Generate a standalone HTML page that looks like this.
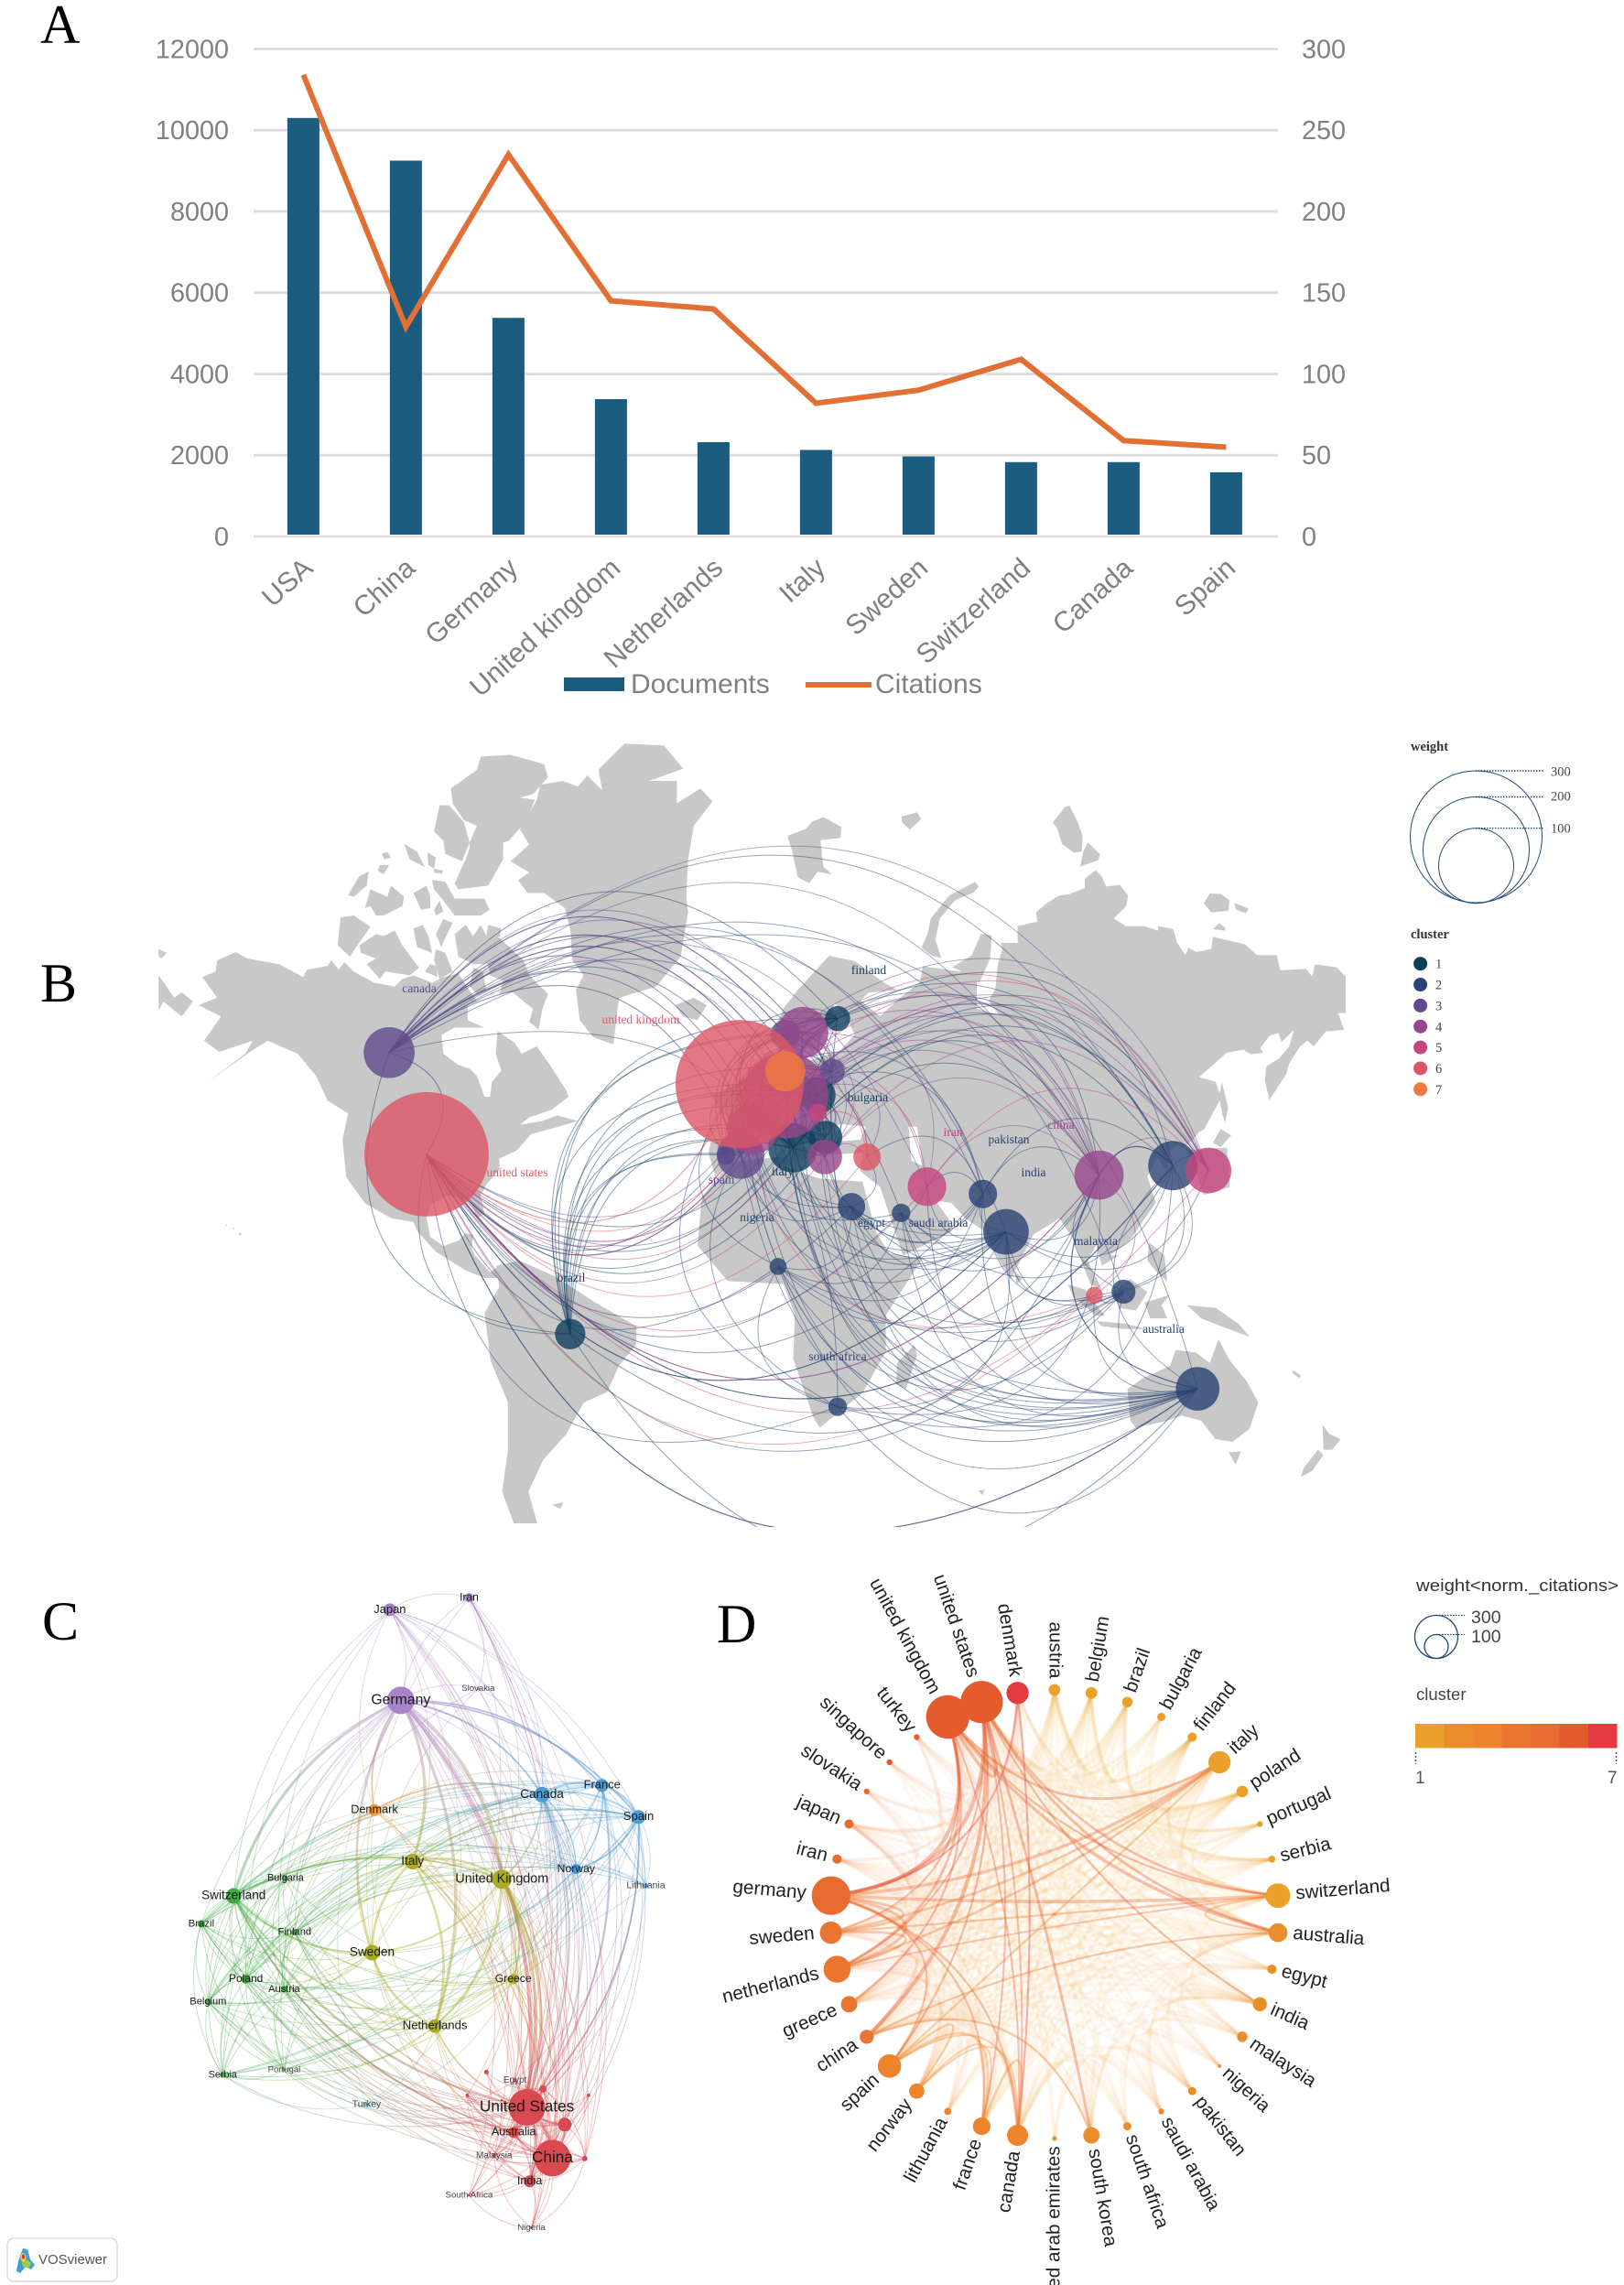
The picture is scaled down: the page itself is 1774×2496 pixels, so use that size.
<!DOCTYPE html>
<html lang="en">
<head>
<meta charset="utf-8">
<title>Country collaboration figure</title>
<style>
html,body{margin:0;padding:0;background:#fff;}
svg{display:block;}
.sans{font-family:"Liberation Sans",sans-serif;}
.serif{font-family:"Liberation Serif",serif;}
</style>
</head>
<body>
<svg id="fig" xmlns="http://www.w3.org/2000/svg" width="1774" height="2496" viewBox="0 0 1774 2496">
<rect width="1774" height="2496" fill="#fff"/>
<defs><clipPath id="mapClip"><rect x="173" y="800" width="1301" height="868"/></clipPath></defs>

<g class="serif" font-size="60" fill="#000">
<text x="44" y="47">A</text>
<text x="44" y="1094">B</text>
<text x="46" y="1791">C</text>
<text x="783" y="1794">D</text>
</g>

<g id="chartA"></g>

<g id="mapLand" fill="#c8c8c8">
<g transform="translate(170,800) scale(.4082)">
<path d="M125,655 160,640 165,610 215,588 245,605 330,620 395,655 405,635 460,625 470,610 490,635 505,615 530,640 585,670 640,680 660,660 690,650 740,670 770,655 810,645 840,690 860,720 835,730 835,770 880,790 860,790 800,790 765,810 770,860 810,890 840,900 860,920 880,975 895,975 900,935 925,905 910,860 915,800 960,830 980,860 1020,840 1055,890 1100,960 1105,975 1060,1010 1000,1030 975,1050 1035,1040 1075,1025 1130,1040 1060,1060 1005,1075 965,1120 920,1140 920,1170 885,1210 870,1240 880,1290 860,1300 840,1250 780,1240 735,1265 725,1300 735,1350 770,1375 810,1360 830,1340 850,1345 845,1380 855,1400 895,1445 930,1420 945,1460 880,1460 830,1440 750,1390 700,1335 690,1310 630,1300 560,1260 510,1190 500,1090 515,1020 460,985 430,920 380,860 300,825 260,850 140,935 200,890 240,860 260,825 170,855 130,825 175,760 115,730 165,710Z"/>
<path d="M8,580 30,590 15,605 8,600ZM8,650 50,710 70,695 100,720 70,760 20,720 8,745Z"/>
<path d="M790,150 860,100 870,65 950,60 1040,85 1050,120 1010,165 975,175 1015,180 990,240 945,290 930,295 930,340 890,410 810,420 800,405 820,360 830,340 840,310 840,295 860,250 825,235 795,190ZM760,195 785,195 825,240 840,295 820,345 775,325 770,290 745,265ZM605,325 620,320 630,335 612,340ZM600,355 625,355 610,380 595,370ZM665,298 700,320 720,360 680,340ZM727,320 750,335 745,365 730,355ZM745,365 770,370 765,378 745,375ZM740,395 775,400 800,445 880,445 893,475 870,490 800,490 770,450 745,420ZM515,435 545,385 570,372 565,410 530,440ZM560,470 575,420 620,440 630,410 665,440 660,465 610,490 590,490 575,465ZM690,430 725,410 735,440 735,470 710,475ZM745,475 760,450 770,480 750,490ZM495,495 530,490 575,520 540,570 520,600 487,570ZM545,570 590,540 610,545 640,530 660,570 705,630 680,650 615,640 600,660 565,620 590,605 550,590ZM690,525 715,515 730,545 740,590 700,575ZM750,540 770,500 795,510 770,560 765,575ZM735,620 750,625 755,655 720,640ZM750,580 775,590 795,640 760,660 745,610ZM800,540 830,515 850,545 870,515 885,545 890,515 925,525 920,550 985,610 1000,650 1050,700 1035,740 1025,795 1000,775 1010,740 985,720 955,695 920,700 930,665 895,650 890,620 850,620 810,600ZM850,630 875,640 885,690 860,700 840,680Z"/>
<path d="M1185,100 1255,30 1360,35 1412,97 1320,130 1395,130 1395,190 1458,150 1490,185 1440,250 1425,340 1420,440 1425,480 1405,600 1340,680 1240,710 1225,835 1170,815 1135,770 1125,690 1145,650 1115,610 1110,530 1095,470 1040,430 995,430 970,395 1000,375 950,345 1000,300 975,260 1020,180 1030,140 1090,130 1130,145 1155,115 1195,155Z"/>
<path d="M1390,730 1440,710 1475,730 1450,770 1410,760Z"/>
<path d="M186,1316 192,1318 190,1322ZM205,1325 212,1328 209,1331ZM222,1338 231,1342 226,1348Z"/>
</g>
<g transform="translate(0,780) scale(.6378,.574)">
<path d="M850,1050 890,1040 950,1070 1020,1120 1090,1165 1090,1200 1060,1240 1040,1290 1000,1310 970,1370 930,1420 905,1480 920,1540 880,1540 860,1480 870,1400 870,1310 840,1230 830,1140 855,1090Z"/>
<path d="M945,1505 965,1500 960,1512Z"/>
</g>
<g transform="translate(800,780) scale(.621,.574)">
<path d="M-30,880 -42,835 -38,815 5,815 -8,770 -35,725 5,705 40,670 65,640 100,650 110,625 135,660 190,640 215,610 200,575 180,550 165,600 150,640 120,635 100,625 70,610 90,560 115,525 170,460 215,470 265,510 290,525 240,530 225,545 260,575 295,540 330,510 335,480 400,490 430,485 430,560 821,691 850,700 860,730 830,790 790,815 770,830 765,870 745,840 745,850 730,880 745,930 700,1000 665,1030 680,1030 650,1050 640,1010 625,1040 650,1095 630,1085 610,1030 600,1000 575,960 530,990 490,1075 470,1040 445,985 410,960 385,930 350,925 340,900 380,960 385,985 320,1020 300,1030 260,900 225,870 230,835 150,840 160,810 120,820 125,860 90,790 75,760 40,780 10,815 -5,850Z"/>
<path d="M75,770 100,790 140,840 125,850 80,810 55,770Z"/>
<path d="M-3,853 96,841 100,865 154,884 229,890 253,986 275,1025 334,1037 270,1144 270,1213 229,1292 154,1358 143,1340 107,1227 110,1144 90,1085 -8,1079 -61,1012 -54,919Z"/>
<path d="M97,232 130,218 140,205 160,196 192,215 190,236 155,240 160,290 175,305 150,300 135,322 115,310 105,260ZM298,195 325,187 332,200 312,220 298,205Z"/>
<path d="M800,830 870,825 875,900 830,915ZM497,1060 510,1075 500,1085ZM733,1005 760,1030 765,1080 745,1060 730,1040ZM590,1085 620,1095 655,1145 640,1145 600,1110ZM670,1100 700,1075 730,1100 710,1135 680,1130ZM640,1155 690,1160 730,1170 690,1170 650,1165ZM725,1120 770,1105 755,1125 765,1150 735,1150ZM800,1125 850,1130 890,1160 910,1185 860,1165 825,1150Z"/>
<path d="M695,1285 720,1265 770,1240 780,1210 815,1215 840,1235 855,1190 875,1230 905,1270 925,1310 910,1360 880,1385 850,1380 825,1345 790,1335 765,1345 710,1358 700,1345Z"/>
<path d="M873,1405 895,1403 885,1428ZM1038,1352 1050,1370 1070,1380 1055,1400 1040,1400ZM1030,1400 1040,1410 1020,1440 1000,1452 1005,1435ZM985,1248 1000,1258 998,1264 986,1255ZM320,1200 325,1220 305,1285 288,1275 290,1235ZM432,1478 444,1476 440,1486Z"/>
<path fill="#fff" d="M150,795 190,780 235,785 225,810 170,815ZM310,785 325,785 335,860 315,850Z"/>
</g>
<g transform="translate(1000,880) scale(.3333)">
<path d="M240,640 262,600 270,520 285,470 280,450 335,450 335,395 400,380 395,350 430,320 470,295 505,290 555,270 555,240 590,212 610,230 625,265 670,260 697,295 690,330 650,370 690,395 750,395 795,410 795,395 845,405 858,450 885,490 895,465 920,480 970,470 975,430 1040,445 1080,455 1120,490 1185,490 1195,540 1280,535 1300,560 1310,520 1380,530 1410,560 1410,680 1385,680 1405,735 1345,740 1305,790 1285,770 1260,790 1225,845 1215,880 1160,965 1145,900 1150,855 1190,830 1225,790 1240,735 1200,775 1190,745 1160,755 1130,795 1140,810 1100,815 1075,800 1020,810 930,890 970,910 990,940 960,1030 910,1095 880,1120 840,1100 500,1000Z"/>
<path d="M120,530 185,490 215,420 250,425 245,500 210,580 180,555Z"/>
<path d="M20,465 40,420 50,370 110,295 195,250 208,265 190,285 130,310 80,370 65,440 85,500 50,490Z"/>
<path d="M450,55 490,5 505,0 530,50 548,100 545,150 520,155 480,125 465,75ZM565,120 605,160 600,178 540,200 550,150Z"/>
<path d="M945,320 965,288 1000,290 1030,310 1025,345 970,350ZM1045,318 1092,338 1082,352 1050,340ZM975,405 995,385 1015,400 1015,410Z"/>
<path d="M1005,908 1025,990 1015,1040 1005,1010 995,950ZM1000,1060 1035,1080 1000,1120 975,1105Z"/>
</g>
</g>
<g id="mapLinks" clip-path="url(#mapClip)" fill="none"></g>
<g id="mapNodes"></g>
<g class="serif" font-size="13.5" text-anchor="middle" dominant-baseline="middle">
<text x="458" y="1081" fill="#5b4a8a">canada</text>
<text x="700" y="1115" fill="#e8566b">united kingdom</text>
<text x="565" y="1282" fill="#e8566b">united states</text>
<text x="624" y="1397" fill="#0f3d5c">brazil</text>
<text x="949" y="1061" fill="#0f3d5c">finland</text>
<text x="948" y="1200" fill="#0f3d5c">bulgaria</text>
<text x="788" y="1290" fill="#5f4b8b">spain</text>
<text x="855" y="1281" fill="#0f3d5c">italy</text>
<text x="827" y="1331" fill="#2a4373">nigeria</text>
<text x="952" y="1337" fill="#2a4373">egypt</text>
<text x="915" y="1483" fill="#2a4373">south africa</text>
<text x="1041" y="1238" fill="#c5457e">iran</text>
<text x="1102" y="1246" fill="#2a4373">pakistan</text>
<text x="1159" y="1230" fill="#97478c">china</text>
<text x="1129" y="1282" fill="#2a4373">india</text>
<text x="1025" y="1337" fill="#2a4373">saudi arabia</text>
<text x="1197" y="1357" fill="#2a4373">malaysia</text>
<text x="1271" y="1453" fill="#2a4373">australia</text>
</g>
<g id="mapLegend">
<text class="serif" x="1541" y="820" font-size="14.5" font-weight="bold" fill="#333">weight</text>
<g fill="none" stroke="#1f4a75" stroke-width="1">
<circle cx="1612.500" cy="914" r="72"/>
<circle cx="1612.500" cy="928.500" r="58"/>
<circle cx="1612.500" cy="945.700" r="41"/>
<path stroke-dasharray="1.5 1.5" stroke-width="1.4" d="M1612,842H1686M1612,870.500H1686M1612,904.700H1686"/>
</g>
<g class="serif" font-size="14.5" fill="#444" dominant-baseline="middle">
<text x="1694" y="844">300</text>
<text x="1694" y="871">200</text>
<text x="1694" y="906">100</text>
</g>
<text class="serif" x="1541" y="1025" font-size="14.5" font-weight="bold" fill="#333">cluster</text>
<g id="clusterLegendB"></g>
</g>

<g id="vos">
<g id="vosLinks" fill="none"></g>
<g id="vosNodes"></g>
<g id="vosLabels" class="sans" text-anchor="middle" dominant-baseline="middle"></g>
</g>
<g id="vosBadge">
<rect x="8" y="2445" width="120" height="47" rx="7" fill="#fff" stroke="#dcdcdc" stroke-width="1.5"/>
<g>
<path d="M25,2456 L30,2457 L33,2468 L38,2474 L34,2479 L28,2476 L22,2483 L18,2481 L20,2470Z" fill="#38a0d8"/>
<ellipse cx="29" cy="2473" rx="5" ry="4" fill="#9ccb3c"/>
<ellipse cx="25.500" cy="2466" rx="3" ry="5" fill="#f2d22e"/>
<ellipse cx="25.500" cy="2465" rx="1.600" ry="2.800" fill="#e2332b"/>
</g>
<text class="sans" x="42" y="2473" font-size="15" fill="#555">VOSviewer</text>
</g>

<g id="chord">
<g id="chordLinks" fill="none"></g>
<g id="chordNodes"></g>
<g id="chordLabels" class="sans" font-size="20.700" fill="#222"></g>
</g>
<g id="chordLegend" class="sans">
<text x="1547" y="1738" font-size="18.500" fill="#333" textLength="221" lengthAdjust="spacingAndGlyphs">weight&lt;norm._citations&gt;</text>
<g fill="none" stroke="#1f4a75" stroke-width="1.300">
<circle cx="1569" cy="1788" r="23.500"/>
<circle cx="1569" cy="1798.500" r="13"/>
<path stroke-dasharray="1.500 1.500" d="M1569,1764.500H1600M1569,1785.500H1600"/>
</g>
<text x="1607" y="1773" font-size="19.500" fill="#444">300</text>
<text x="1607" y="1794" font-size="19.500" fill="#444">100</text>
<text x="1547" y="1857" font-size="18.500" fill="#444">cluster</text>
<g id="colorBar"></g>
<path d="M1546.500,1914V1927M1765.500,1914V1927" stroke="#2a5a95" stroke-width="1.500" stroke-dasharray="2 2" fill="none"/>
<text x="1546" y="1948" font-size="19" fill="#555">1</text>
<text x="1756" y="1948" font-size="19" fill="#555">7</text>
</g>
</svg>

<script>
/* ---------- Panel A data ---------- */
const categoriesA = ["USA","China","Germany","United kingdom","Netherlands","Italy","Sweden","Switzerland","Canada","Spain"];
const documentsA = [10300,9250,5380,3380,2320,2130,1970,1830,1830,1580];
const citationsA = [284,129,235,145,140,82,90,109,59,55];
const leftTicksA = [0,2000,4000,6000,8000,10000,12000];
const rightTicksA = [0,50,100,150,200,250,300];

/* ---------- Shared collaboration network ---------- */
const strongLinks = [
["gb","us",5],["de","gb",6],["de","us",6],["de","dk",3],["de","it",5],["de","ch",5],["de","se",4],["de","nl",5],
["gb","au",5],["us","ch",4],["gb","it",4],["nl","it",4],["nl","gb",4],["nl","us",3],["es","it",3],["es","de",3],
["se","gb",3],["gb","ca",3],["us","fr",3],["dk","ca",3],["us","ca",3],["se","nl",4],["ch","se",3],["ch","nl",3],
["ch","gb",3],["it","se",4],["gb","gr",3],["ca","fr",4],["es","fr",4],["es","ca",3],["es","no",3],["fr","no",2],
["ca","no",2],["us","cn",6],["us","au",4],["us","kr",4],["cn","kr",3],["cn","au",3],["us","es",3],["ch","au",3],
["de","fr",3],["de","ca",3],["us","in",3]
];
const weakRows = [
"us:at be br bg dk eg fi gr in ir jp lt my ng no pk pl pt rs sa sg sk za ae tr kr au cn es it qa",
"gb:at be br bg dk eg fi gr in ir jp lt my ng no pk pl pt rs sa sg sk za ae tr kr cn es fr ch",
"de:at be br bg dk eg fi gr in ir jp lt my no pk pl pt rs sk za tr kr cn es fr au ca",
"ch:at be br bg dk fi gr in jp lt no pl pt rs se ca es fr cn au tr",
"nl:at be br dk fi gr in jp no pl pt rs ca es fr cn au ir tr",
"se:at be br dk fi gr in no pl pt rs ca es fr cn au ir sk",
"it:at be br bg dk eg fi gr in jp no pl pt rs ca es fr cn au kr lt",
"ca:at be br dk fi gr in ir jp lt my no pl pk cn au kr sa za",
"es:at be br dk fi gr lt no pl pt rs cn au in jp eg",
"fr:at be br dk fi gr lt no pl pt rs cn au in jp",
"cn:at be br dk eg fi gr in ir jp my no pk pl sa sg za kr au ng qa",
"au:at be br dk eg fi gr in ir my no pk pl sa sg za kr ng qa",
"kr:in jp my pk sa sg za at be fi qa",
"jp:ir in sk at dk gr no pl",
"in:ir my pk sa sg za eg ng at gr",
"ir:sk pk eg",
"tr:pl gr rs eg pk",
"eg:sa pk my ng",
"sa:pk my ng sg ae",
"pk:my ae ng",
"my:sg ng",
"za:ng ae",
"br:at be bg fi pl rs pt gr no",
"at:be bg fi pl rs pt gr no dk",
"be:bg fi pl rs pt gr no dk",
"bg:fi pl rs gr",
"fi:pl rs gr no dk lt pt",
"dk:gr no pl",
"gr:no pl rs",
"lt:no pl sk",
"no:pl rs",
"pl:rs pt sk",
"pt:rs"
];

/* ---------- Panel B data ---------- */
const idsB = ["ca","us","br","gb","de","dk","se","no","fi","pl","at","rs","fr","es","pt","it","bg","gr","tr","ir","eg","sa","pk","in","cn","kr","jp","my","sg","au","za","ng"];
const lonB = [-110.2,-98.9,-55.5,-4.3,9.5,9.5,14.8,9.5,25.3,23.7,19.2,19.2,-0.4,-4,-8.4,11.8,21.7,21.4,34.2,52.3,29.5,44.5,69.2,76.2,104.3,126.6,137.4,111.7,102.9,134.1,25.3,7.3];
const latB = [56.8,37.6,-10.1,51.6,49.6,53.8,59.8,59.5,61.7,53.8,49.6,46.3,43,37.4,37.4,39,41.3,37,37,30,25,23.4,28.2,18.4,32.8,35,33.9,1.8,0.8,-24.8,-29.3,8.9];
const weightB = [45,268,16,285,128,28,45,15,11,11,23,6,45,39,6,42,19,21,13,26,13,6,14,36,42,42,36,10,5,33,6,5];
const clusterB = [3,6,1,6,4,7,4,3,1,3,1,5,4,3,2,1,1,4,6,5,2,2,2,2,4,2,5,2,6,2,2,2];
const clusterColorsB = ["#0f3d5c","#2a4373","#5f4b8b","#97478c","#c5457e","#dc5665","#ef7a3f"];
const clusterNamesB = [1,2,3,4,5,6,7];

/* ---------- Panel C data (layout units from the VOS map) ---------- */
const idsC = ["jp","ir","de","sk","dk","ca","fr","es","it","gb","no","lt","ch","bg","br","fi","se","gr","pl","at","be","nl","rs","pt","tr","eg","us","au","kr","cn","in","my","za","ng","pk","sa","sg","ae","qa"];
const labelsC = ["Japan","Iran","Germany","Slovakia","Denmark","Canada","France","Spain","Italy","United Kingdom","Norway","Lithuania","Switzerland","Bulgaria","Brazil","Finland","Sweden","Greece","Poland","Austria","Belgium","Netherlands","Serbia","Portugal","Turkey","Egypt","United States","Australia","","China","India","Malaysia","South Africa","Nigeria","","","","",""];
const layoutXC = [856,1030,880,1050,822,1190,1322,1402,906,1102,1265,1418,513,627,442,647,817,1127,540,624,457,955,489,624,805,1131,1157,1128,1240,1213,1163,1085,1030,1167,1284,1192,1026,1068,1292];
const layoutYC = [115,89,310,285,546,513,493,561,657,695,673,709,731,693,791,809,853,910,910,932,959,1011,1116,1105,1180,1128,1186,1240,1223,1295,1345,1290,1375,1445,1296,1146,1160,1110,1160];
const weightC = [196,100,900,9,169,289,196,225,289,441,121,25,289,36,64,49,289,121,100,49,49,225,36,9,25,16,1600,144,225,1600,169,16,9,9,36,64,16,25,16];
const clusterC = ["p","p","p","p","o","b","b","b","y","y","b","b","g","g","g","g","y","y","g","g","g","y","g","g","c","r","r","r","r","r","r","r","r","r","r","r","r","r","r"];
const clusterColorsC = {p:"#a983c8",o:"#f0993c",b:"#4c9bd6",y:"#a9ab24",g:"#3fa944",c:"#5cc5d0",r:"#d94a50"};

/* ---------- Panel D data ---------- */
const idsD = ["at","be","br","bg","fi","it","pl","pt","rs","ch","au","eg","in","my","ng","pk","sa","za","kr","ae","ca","fr","lt","no","es","cn","gr","nl","se","de","ir","jp","sk","sg","tr","gb","us","dk"];
const namesD = ["austria","belgium","brazil","bulgaria","finland","italy","poland","portugal","serbia","switzerland","australia","egypt","india","malaysia","nigeria","pakistan","saudi arabia","south africa","south korea","united arab emirates","canada","france","lithuania","norway","spain","china","greece","netherlands","sweden","germany","iran","japan","slovakia","singapore","turkey","united kingdom","united states","denmark"];
const weightD = [22,22,18,11,14,81,22,5.6,8,99,58,14,32,18,2,11,5.6,11,44,3.6,73,51,8,38,90,32,44,119,81,245,14,14,5.6,5.6,5.6,308,292,81];
const clusterD = [1,1,1,1,1,1,1,1,1,1,2,2,2,2,2,2,2,2,2,2,3,3,3,3,3,4,4,4,4,5,5,5,5,6,6,6,6,7];
const clusterColorsD = ["#eaa029","#ec8d2b","#ed842c","#ea7530","#e86b2f","#e55b2e","#e63a3e"];

/* ---------- Helpers ---------- */
const NS = "http://www.w3.org/2000/svg";
const make = tag => document.createElementNS(NS, tag);
const root = id => document.getElementById(id);
const weakPairs = [];
weakRows.forEach(row => {
  const parts = row.split(":");
  parts[1].split(" ").forEach(t => weakPairs.push([parts[0], t]));
});

/* ---------- Panel A ---------- */
(function () {
  const g = root("chartA");
  const xA = i => 331.4 + i * 112;
  const yLeft = v => 586 - v * 532.6 / 12000;
  const yRight = v => 586 - v * 532.6 / 300;
  leftTicksA.forEach(t => {
    const grid = make("line");
    
    
    grid.setAttribute("x1", 277);
    grid.setAttribute("x2", 1396);
    grid.setAttribute("y1", yLeft(t));
    grid.setAttribute("y2", yLeft(t));
    grid.setAttribute("stroke", "#dcdcdc");
    grid.setAttribute("stroke-width", "2.800");
    g.appendChild(grid);
    const lab = make("text");
    
    
    lab.setAttribute("x", 250);
    lab.setAttribute("y", yLeft(t) + 10);
    lab.setAttribute("text-anchor", "end");
    lab.setAttribute("font-family", '"Liberation Sans", sans-serif');
    lab.setAttribute("font-size", "28.800");
    lab.setAttribute("fill", "#808080");
    lab.textContent = t;
    g.appendChild(lab);
  });
  rightTicksA.forEach(t => {
    const lab = make("text");
    
    
    lab.setAttribute("x", 1422);
    lab.setAttribute("y", yRight(t) + 10);
    lab.setAttribute("font-family", '"Liberation Sans", sans-serif');
    lab.setAttribute("font-size", "28.800");
    lab.setAttribute("fill", "#808080");
    lab.textContent = t;
    g.appendChild(lab);
  });
  documentsA.forEach((v, i) => {
    const bar = make("rect");
    
    
    bar.setAttribute("x", xA(i) - 17.500);
    bar.setAttribute("y", yLeft(v));
    bar.setAttribute("width", 35);
    bar.setAttribute("height", 584 - yLeft(v));
    bar.setAttribute("fill", "#1c5c7e");
    g.appendChild(bar);
  });
  const line = make("polyline");
  
  
  line.setAttribute("points", citationsA.map((v, i) => xA(i) + "," + yRight(v)).join(" "));
  line.setAttribute("fill", "none");
  line.setAttribute("stroke", "#e26f33");
  line.setAttribute("stroke-width", "6");
  line.setAttribute("stroke-linejoin", "miter");
  g.appendChild(line);
  categoriesA.forEach((c, i) => {
    const t = make("text");
    
    
    t.setAttribute("transform", "translate(" + (xA(i) + 12) + ",623) rotate(-42)");
    t.setAttribute("text-anchor", "end");
    t.setAttribute("font-family", '"Liberation Sans", sans-serif');
    t.setAttribute("font-size", "30");
    t.setAttribute("fill", "#808080");
    t.textContent = c;
    g.appendChild(t);
  });
  const sw = make("rect");
  
  
  sw.setAttribute("x", 616);
  sw.setAttribute("y", 740);
  sw.setAttribute("width", 66);
  sw.setAttribute("height", 15);
  sw.setAttribute("fill", "#1c5c7e");
  g.appendChild(sw);
  const ls = make("line");
  
  
  ls.setAttribute("x1", 880);
  ls.setAttribute("x2", 952);
  ls.setAttribute("y1", 748);
  ls.setAttribute("y2", 748);
  ls.setAttribute("stroke", "#e26f33");
  ls.setAttribute("stroke-width", "6");
  g.appendChild(ls);
  [["Documents", 689], ["Citations", 956]].forEach(p => {
    const t = make("text");
    
    
    t.setAttribute("x", p[1]);
    t.setAttribute("y", 757);
    t.setAttribute("font-family", '"Liberation Sans", sans-serif');
    t.setAttribute("font-size", "30");
    t.setAttribute("fill", "#808080");
    t.textContent = p[0];
    g.appendChild(t);
  });
})();

/* ---------- Panel B ---------- */
(function () {
  const xLon = lon => 823.5 + 3.615 * lon;
  const yLat = lat => 1418 - 221.6 * Math.log(Math.tan(Math.PI / 4 + lat * Math.PI / 360));
  const rW = w => 4.15 * Math.sqrt(w);
  const south = new Set(["us","au","za","ng","in","my","sg","sa","eg"]);
  const idx = {};
  idsB.forEach((d, i) => { idx[d] = i; });
  const isEurope = i => latB[i] > 35 && lonB[i] > -15 && lonB[i] < 45;
  const bendDir = (a, b, i, j) => {
    if ((a === "br" && (b === "us" || b === "ca")) || (b === "br" && (a === "us" || a === "ca"))) return 1;
    if (a === "ca" || b === "ca") return -1;
    if (a === "br") return isEurope(j) ? -1 : 1;
    if (b === "br") return isEurope(i) ? -1 : 1;
    return (south.has(a) || south.has(b)) ? 1 : -1;
  };
  const linkG = root("mapLinks");
  const drawLink = (a, b, width, op) => {
    if (idx[a] === undefined || idx[b] === undefined) return;
    const i = idx[a], j = idx[b];
    const x1 = xLon(lonB[i]), y1 = yLat(latB[i]), x2 = xLon(lonB[j]), y2 = yLat(latB[j]);
    const dx = x2 - x1, dy = y2 - y1;
    let px = -dy, py = dx;
    const want = bendDir(a, b, i, j);
    if (py * want < 0) { px = -px; py = -py; }
    const k = 0.64;
    const cx = (x1 + x2) / 2 + px * k, cy = (y1 + y2) / 2 + py * k;
    const c = clusterB[i] < clusterB[j] ? clusterB[i] : clusterB[j];
    const path = make("path");
    
    
    path.setAttribute("d", "M" + x1 + "," + y1 + "Q" + cx + "," + cy + " " + x2 + "," + y2);
    path.setAttribute("stroke", clusterColorsB[c - 1]);
    path.setAttribute("stroke-width", width);
    path.setAttribute("stroke-opacity", op);
    linkG.appendChild(path);
  };
  weakPairs.forEach(p => drawLink(p[0], p[1], 1, 0.48));
  strongLinks.forEach(p => drawLink(p[0], p[1], 1.1, 0.6));
  const nodeG = root("mapNodes");
  const order = idsB.map((d, i) => i).sort((p, q) => clusterB[p] - clusterB[q]);
  order.forEach(i => {
    const c = make("circle");
    
    
    c.setAttribute("cx", xLon(lonB[i]));
    c.setAttribute("cy", yLat(latB[i]));
    c.setAttribute("r", rW(weightB[i]));
    c.setAttribute("fill", clusterColorsB[clusterB[i] - 1]);
    c.setAttribute("fill-opacity", "0.8");
    nodeG.appendChild(c);
  });
  const lg = root("clusterLegendB");
  clusterNamesB.forEach((n, i) => {
    const y = 1052.7 + i * 22.85;
    const d = make("circle");
    
    
    d.setAttribute("cx", 1551.6);
    d.setAttribute("cy", y);
    d.setAttribute("r", 7.500);
    d.setAttribute("fill", clusterColorsB[i]);
    lg.appendChild(d);
    const t = make("text");
    
    
    t.setAttribute("x", 1568);
    t.setAttribute("y", y + 5);
    t.setAttribute("font-family", '"Liberation Serif", serif');
    t.setAttribute("font-size", "14.500");
    t.setAttribute("fill", "#444");
    t.textContent = n;
    lg.appendChild(t);
  });
})();

/* ---------- Panel C ---------- */
(function () {
  const xC = u => u * 0.4975;
  const yC = u => 1700 + u * 0.5076;
  const rC = w => 0.5 * Math.sqrt(w);
  const idx = {};
  idsC.forEach((d, i) => { idx[d] = i; });
  const svg = root("fig");
  const defs = svg.querySelector("defs");
  const g = root("vosLinks");
  let gradId = 0;
  const midX = xC(900), midY = yC(800);
  const drawLink = (a, b, width, op) => {
    if (idx[a] === undefined || idx[b] === undefined) return;
    const i = idx[a], j = idx[b];
    const x1 = xC(layoutXC[i]), y1 = yC(layoutYC[i]), x2 = xC(layoutXC[j]), y2 = yC(layoutYC[j]);
    const mx = (x1 + x2) / 2, my = (y1 + y2) / 2;
    let px = -(y2 - y1), py = x2 - x1;
    if (px * (mx - midX) + py * (my - midY) < 0) { px = -px; py = -py; }
    const gradient = make("linearGradient");
    const gid = "vg" + (gradId++);
    gradient.setAttribute("id", gid);
    gradient.setAttribute("gradientUnits", "userSpaceOnUse");
    gradient.setAttribute("x1", x1);
    gradient.setAttribute("y1", y1);
    gradient.setAttribute("x2", x2);
    gradient.setAttribute("y2", y2);
    const s1 = make("stop");
    s1.setAttribute("offset", "0");
    s1.setAttribute("stop-color", clusterColorsC[clusterC[i]]);
    const s2 = make("stop");
    s2.setAttribute("offset", "1");
    s2.setAttribute("stop-color", clusterColorsC[clusterC[j]]);
    gradient.appendChild(s1);
    gradient.appendChild(s2);
    defs.appendChild(gradient);
    const path = make("path");
    
    
    path.setAttribute("d", "M" + x1 + "," + y1 + "Q" + (mx + px * 0.22) + "," + (my + py * 0.22) + " " + x2 + "," + y2);
    path.setAttribute("stroke", "url(#" + gid + ")");
    path.setAttribute("stroke-width", width);
    path.setAttribute("stroke-opacity", op);
    g.appendChild(path);
  };
  weakPairs.forEach(p => drawLink(p[0], p[1], 1, 0.33));
  strongLinks.forEach(p => drawLink(p[0], p[1], 0.65 * p[2], 0.42));
  const nodeG = root("vosNodes");
  const labelG = root("vosLabels");
  idsC.forEach((d, i) => {
    const c = make("circle");
    
    
    c.setAttribute("cx", xC(layoutXC[i]));
    c.setAttribute("cy", yC(layoutYC[i]));
    c.setAttribute("r", rC(weightC[i]));
    c.setAttribute("fill", clusterColorsC[clusterC[i]]);
    nodeG.appendChild(c);
    if (labelsC[i]) {
      const t = make("text");
      
      
      t.setAttribute("x", xC(layoutXC[i]));
      t.setAttribute("y", yC(layoutYC[i]));
      t.setAttribute("font-size", (6.7 + 2.35 * Math.sqrt(rC(weightC[i]))).toFixed(1));
      t.setAttribute("fill", weightC[i] < 30 ? "#444" : "#1a1a1a");
      t.textContent = labelsC[i];
      labelG.appendChild(t);
    }
  });
})();

/* ---------- Panel D ---------- */
(function () {
  const CX = 1151.9, CY = 2090.9, R = 245;
  const angle = i => -Math.PI / 2 + i * 2 * Math.PI / idsD.length;
  const px = i => CX + R * Math.cos(angle(i));
  const py = i => CY + R * Math.sin(angle(i));
  const rD = w => 1.35 * Math.sqrt(w);
  const idx = {};
  idsD.forEach((d, i) => { idx[d] = i; });
  const g = root("chordLinks");
  const drawLink = (a, b, width, op, strong) => {
    if (idx[a] === undefined || idx[b] === undefined) return;
    const i = idx[a], j = idx[b];
    const x1 = px(i), y1 = py(i), x2 = px(j), y2 = py(j);
    const mx = (x1 + x2) / 2, my = (y1 + y2) / 2;
    const cx = mx + 0.65 * (CX - mx), cy = my + 0.65 * (CY - my);
    const hi = clusterD[i] > clusterD[j] ? clusterD[i] : clusterD[j];
    const lo = clusterD[i] > clusterD[j] ? clusterD[j] : clusterD[i];
    const src = strong ? hi : lo;
    const path = make("path");
    
    
    path.setAttribute("d", "M" + x1 + "," + y1 + "Q" + cx + "," + cy + " " + x2 + "," + y2);
    path.setAttribute("stroke", clusterColorsD[src - 1]);
    path.setAttribute("stroke-width", width);
    path.setAttribute("stroke-opacity", op);
    g.appendChild(path);
  };
  weakPairs.forEach(p => drawLink(p[0], p[1], 3.5, 0.055, false));
  strongLinks.forEach(p => drawLink(p[0], p[1], 0.7 * p[2], 0.36, true));
  const nodeG = root("chordNodes");
  const labelG = root("chordLabels");
  idsD.forEach((d, i) => {
    const r = rD(weightD[i]);
    const c = make("circle");
    
    
    c.setAttribute("cx", px(i));
    c.setAttribute("cy", py(i));
    c.setAttribute("r", r);
    c.setAttribute("fill", clusterColorsD[clusterD[i] - 1]);
    nodeG.appendChild(c);
    const a = angle(i);
    const cosA = Math.cos(a);
    const rightSide = cosA > 0.001;
    const deg = a * 180 / Math.PI;
    const lx = CX + (R + r + 6) * cosA;
    const ly = CY + (R + r + 6) * Math.sin(a);
    const t = make("text");
    
    
    t.setAttribute("transform", "translate(" + lx + "," + ly + ") rotate(" + (rightSide ? deg : deg + 180) + ")");
    t.setAttribute("text-anchor", rightSide ? "start" : "end");
    t.setAttribute("dominant-baseline", "middle");
    t.textContent = namesD[i];
    labelG.appendChild(t);
  });
  const bar = root("colorBar");
  clusterColorsD.forEach((col, i) => {
    const seg = make("rect");
    
    
    seg.setAttribute("x", 1546 + i * 31.5);
    seg.setAttribute("y", 1883);
    seg.setAttribute("width", 31.5);
    seg.setAttribute("height", 26.5);
    seg.setAttribute("fill", col);
    bar.appendChild(seg);
  });
})();
</script>
</body>
</html>
